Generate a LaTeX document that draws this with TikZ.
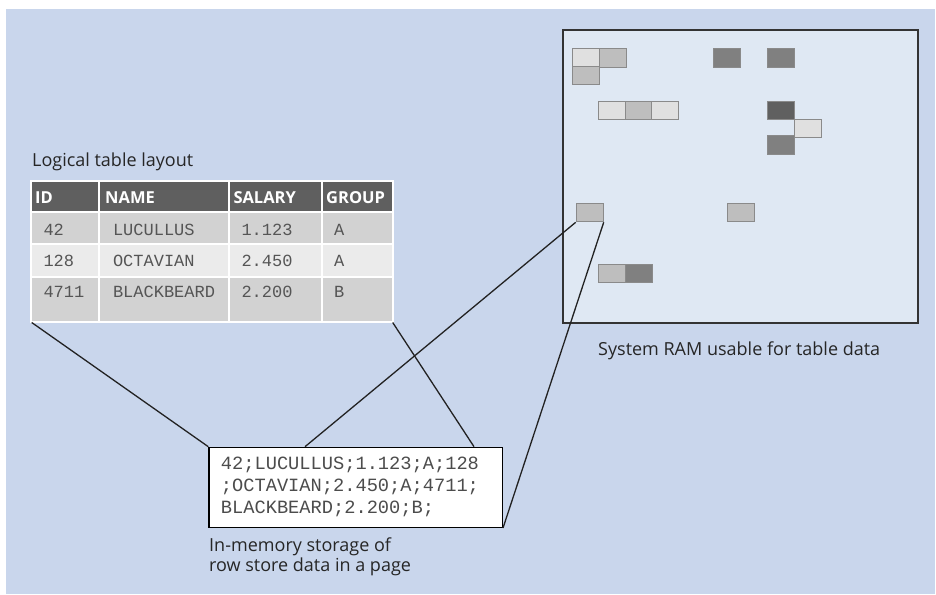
\documentclass[tikz,border=0pt]{standalone}
\usepackage{fontspec}
\setmainfont{Open Sans}
\setmonofont{Liberation Mono}
\usepackage{tikz}
\usetikzlibrary{calc}
\definecolor{bgblue}{HTML}{C9D6EC}
\definecolor{ramblue}{HTML}{DFE8F3}
\definecolor{hdgray}{HTML}{5F5F5F}
\definecolor{rowdark}{HTML}{D2D2D2}
\definecolor{rowlight}{HTML}{EBEBEB}
\definecolor{blklight}{HTML}{E0E0E0}
\definecolor{blkmid}{HTML}{BEBEBE}
\definecolor{blkdark}{HTML}{808080}
\definecolor{blkdeep}{HTML}{606060}
\definecolor{blkedge}{HTML}{8A8A8A}
\definecolor{monogray}{HTML}{555555}
\definecolor{linkgray}{HTML}{222222}
\tikzset{
 blk/.style={draw=blkedge, line width=1, minimum width=27, minimum height=18.3, inner sep=0, anchor=north west},
 link/.style={linkgray, line width=1.3},
 cell/.style={anchor=base west, inner sep=0, font=\fontsize{17}{20}\selectfont\ttfamily, text=monogray},
 head/.style={anchor=base west, inner sep=0, font=\fontsize{16.5}{19}\selectfont\bfseries, text=white},
 label/.style={anchor=base west, inner sep=0, font=\fontsize{18}{21}\selectfont, text=black!85}
}

\begin{document}
\begin{tikzpicture}[x=1pt, y=-1pt]
\useasboundingbox (0,0) rectangle (936,594);
\fill[bgblue] (6,9) rectangle (935,594);

% table
\fill[white] (30,179.7) rectangle (394,323);
\fill[hdgray] (31,180.7) rectangle (393,212.3);
\fill[rowdark] (31,212.3) rectangle (393,244);
\fill[rowlight] (31,244) rectangle (393,276.7);
\fill[rowdark] (31,276.7) rectangle (393,322);
\foreach \x in {99.3,229,321.7} {
 \draw[white, line width=2] (\x,180.7) -- (\x,322);
}
\foreach \y in {212.3,244,276.7} {
 \draw[white, line width=2] (31,\y) -- (393,\y);
}
\draw[white, line width=2] (31,180.7) rectangle (393,322);
\coordinate (tblsw) at (31.7,322.5);
\coordinate (tblse) at (392.7,322.5);

\node[label] (title) at (32,166) {Logical table layout};
\node[head] (hid) at (35,203.3) {ID};
\node[head] (hname) at (105,203.3) {NAME};
\node[head] (hsal) at (233.3,203.3) {SALARY};
\node[head] (hgrp) at (326,203.3) {GROUP};
\foreach \id/\nm/\sal/\grp/\y [count=\i] in {42/LUCULLUS/1.123/A/235, 128/OCTAVIAN/2.450/A/266, 4711/BLACKBEARD/2.200/B/297.7} {
 \node[cell] (id\i) at (43.3,\y) {\id};
 \node[cell] (nm\i) at (112.8,\y) {\nm};
 \node[cell] (sal\i) at (241.3,\y) {\sal};
 \node[cell] (grp\i) at (334,\y) {\grp};
}

% system ram
\draw[fill=ramblue, draw=black!80, line width=2] (563,30) rectangle (918,323);
\foreach \x/\y/\c [count=\i] in {571.7/48.3/blklight, 598.7/48.3/blkmid, 571.7/66/blkmid,
 713/48.3/blkdark, 766.7/48.3/blkdark,
 597.7/100.7/blklight, 624.7/100.7/blkmid, 651.3/100.7/blklight,
 766.7/100.7/blkdeep, 793.7/118.7/blklight, 766.7/135.3/blkdark,
 575.7/203/blkmid, 727/203/blkmid,
 597.7/263.7/blkmid, 624.7/263.7/blkdark} {
 \node[blk, fill=\c] (b\i) at (\x,\y) {};
}
\node[label] (ramtxt) at (598,355) {System RAM usable for table data};

% page with row store
\node[draw=black, line width=1.3, fill=white, minimum width=293.4, minimum height=80, inner sep=0, anchor=north west] (page) at (208.3,446.7) {};
\foreach \ln [count=\i] in {42;LUCULLUS;1.123;A;128, ;OCTAVIAN;2.450;A;4711;, BLACKBEARD;2.200;B;} {
 \node[cell, font=\fontsize{18.7}{22}\selectfont\ttfamily, text=black!70] (pl\i) at (220.7,469.3+22.3*\i-22.3) {\ln};
}
\node[label] (pgtxt1) at (209,551) {In-memory storage of};
\node[label] (pgtxt2) at (209,571.7) {row store data in a page};
\coordinate (pA) at (305,446.7);
\coordinate (pB) at (474,446.7);

% connectors
\draw[link] (tblsw) -- (page.north west);
\draw[link] (tblse) -- (pB);
\draw[link] (b12.south west) -- (pA);
\draw[link] (b12.south east) -- (page.south east);
\end{tikzpicture}
\end{document}
